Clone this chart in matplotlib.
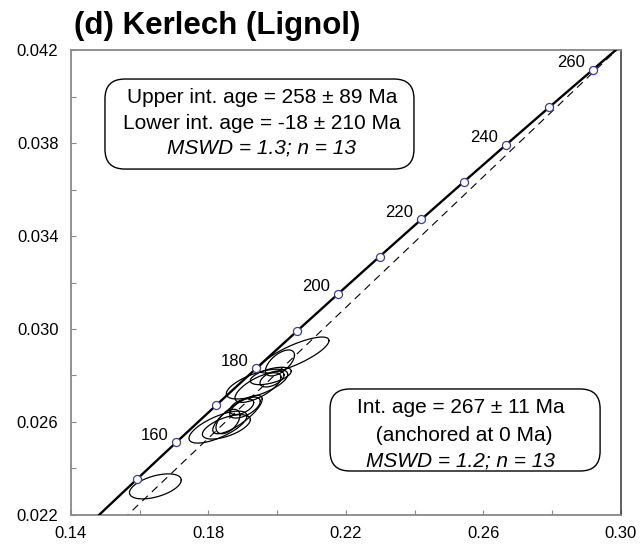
import numpy as np
import matplotlib
matplotlib.use("Agg")
import matplotlib.pyplot as plt
from matplotlib.patches import FancyBboxPatch

plt.rcParams['font.family'] = ['Liberation Sans', 'DejaVu Sans']

# Decay constants (per year)
LAMBDA_238 = 1.55125e-10
LAMBDA_235 = 9.8485e-10

# Concordia age markers (Ma) and which ones get a label
marker_ages = [150, 160, 170, 180, 190, 200, 210, 220, 230, 240, 250, 260]
labelled_ages = [160, 180, 200, 220, 240, 260]

# Zircon analyses: 207Pb/235U, 206Pb/238U, error half-widths and error correlation
pb207_u235 = [0.16455, 0.20487, 0.20080, 0.19411, 0.19440, 0.19847, 0.18276,
              0.18844, 0.19062, 0.18521, 0.18567, 0.18966, 0.19812]
pb206_u238 = [0.02323, 0.02888, 0.02854, 0.02763, 0.02748, 0.02785, 0.02578,
              0.02632, 0.02662, 0.02579, 0.02602, 0.02666, 0.02798]
err_207_235 = [0.00753, 0.01018, 0.00422, 0.00893, 0.00669, 0.00349, 0.00844,
               0.00719, 0.00445, 0.00698, 0.00349, 0.00349, 0.00596]
err_206_238 = [0.000538, 0.000774, 0.000559, 0.000641, 0.000637, 0.000344, 0.000688,
               0.000826, 0.000452, 0.000525, 0.000525, 0.000340, 0.000374]
err_rho = [0.50, 0.80, 0.60, 0.65, 0.70, 0.50, 0.70, 0.80, 0.60, 0.60, 0.50, 0.50, 0.55]

# Anchored discordia intercept age (Ma)
anchored_age = 267

x_ticks = [0.14, 0.16, 0.18, 0.20, 0.22, 0.24, 0.26, 0.28, 0.30]
x_ticklabels = ['0.14', '', '0.18', '', '0.22', '', '0.26', '', '0.30']
y_ticks = [0.022, 0.024, 0.026, 0.028, 0.030, 0.032, 0.034, 0.036, 0.038, 0.040, 0.042]
y_ticklabels = ['0.022', '', '0.026', '', '0.030', '', '0.034', '', '0.038', '', '0.042']

upper_box_lines = ['Upper int. age = 258 ± 89 Ma',
                   'Lower int. age = -18 ± 210 Ma',
                   'MSWD = 1.3; n = 13']
lower_box_lines = ['Int. age = 267 ± 11 Ma',
                   ' (anchored at 0 Ma)',
                   'MSWD = 1.2; n = 13']


def concordia(age_ma):
    t = np.asarray(age_ma, dtype=float) * 1e6
    return np.exp(LAMBDA_235 * t) - 1.0, np.exp(LAMBDA_238 * t) - 1.0


fig = plt.figure(figsize=(6.4, 5.46), dpi=100)
ax = fig.add_axes([0.1109, 0.0568, 0.8594, 0.8516])
ax.set_xlim(0.14, 0.30)
ax.set_ylim(0.022, 0.042)

# Anchored discordia through the origin
cx, cy = concordia(anchored_age)
dx = np.linspace(0.13, 0.32, 50)
ax.plot(dx, dx * cy / cx, color='black', lw=0.8, ls=(0, (7, 5)), zorder=2)

# Concordia curve
ages = np.linspace(100, 300, 400)
kx, ky = concordia(ages)
ax.plot(kx, ky, color='black', lw=1.7, zorder=3)

# Error ellipses
theta = np.linspace(0, 2 * np.pi, 200)
for x0, y0, sx, sy, r in zip(pb207_u235, pb206_u238, err_207_235, err_206_238, err_rho):
    cov = np.array([[sx * sx, r * sx * sy], [r * sx * sy, sy * sy]])
    L = np.linalg.cholesky(cov)
    pts = L @ np.vstack([np.cos(theta), np.sin(theta)])
    ax.plot(x0 + pts[0], y0 + pts[1], color='black', lw=0.9, zorder=4)

# Age markers on the concordia
mx, my = concordia(marker_ages)
ax.plot(mx, my, ls='none', marker='o', ms=5.8, mfc='white', mec='#3b3ba8',
        mew=0.9, zorder=5)
for age in labelled_ages:
    px, py = concordia(age)
    ax.annotate(str(age), (px, py), xytext=(-16, 5), textcoords='offset points',
                ha='center', va='center', fontsize=12, zorder=6)

# Axes styling
ax.set_xticks(x_ticks)
ax.set_xticklabels(x_ticklabels)
ax.set_yticks(y_ticks)
ax.set_yticklabels(y_ticklabels)
ax.tick_params(direction='in', length=3.5, width=0.8, color='#888888',
               labelsize=12, pad=9)
ax.tick_params(axis='x', pad=8)
for side in ['left', 'top', 'bottom']:
    ax.spines[side].set_color('#888888')
    ax.spines[side].set_linewidth(1.3)
ax.spines['right'].set_color('#333333')
ax.spines['right'].set_linewidth(1.1)

fig.text(0.115, 0.953, '(d) Kerlech (Lignol)', fontsize=22.5, fontweight='bold',
         ha='left', va='center')


def text_box(x0, y0, x1, y1, xc, ys, lines):
    box = FancyBboxPatch((x0, y0), x1 - x0, y1 - y0,
                         boxstyle='round,pad=0,rounding_size=0.036',
                         mutation_aspect=550 / 465,
                         transform=ax.transAxes, fc='white', ec='black',
                         lw=1.0, zorder=7)
    ax.add_patch(box)
    for i, (line, yl) in enumerate(zip(lines, ys)):
        ax.text(xc, yl, line, transform=ax.transAxes, ha='center', va='center',
                fontsize=15, style='italic' if i == 2 else 'normal', zorder=8)


text_box(0.0618, 0.744, 0.6236, 0.9376, 0.3473, [0.8968, 0.8409, 0.7892], upper_box_lines)
text_box(0.471, 0.0946, 0.962, 0.271, 0.709, [0.232, 0.172, 0.116], lower_box_lines)

fig.savefig('out.png', dpi=100)
